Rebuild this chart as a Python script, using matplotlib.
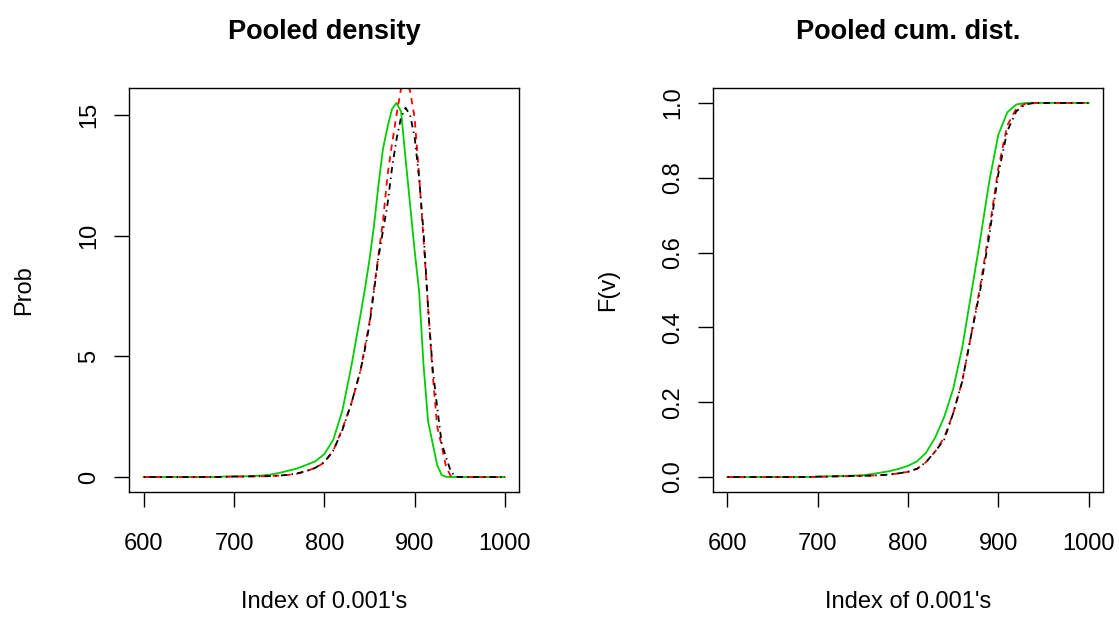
import matplotlib
matplotlib.use("Agg")
import matplotlib.pyplot as plt

plt.rcParams['font.family'] = ['Liberation Sans', 'DejaVu Sans']

# ---------------- data ----------------
dens_x = [600, 650, 680, 690, 700, 710, 720, 730, 740, 750, 760, 770, 780, 790,
          800, 810, 820, 830, 840, 845, 850, 855, 860, 865, 870, 875, 880, 885,
          890, 895, 900, 905, 910, 915, 920, 925, 930, 935, 940, 945, 950, 960, 1000]
dens_green = [0, 0, 0, 0.02, 0.03, 0.03, 0.04, 0.06, 0.1, 0.17, 0.26, 0.36, 0.5, 0.65,
              0.95, 1.55, 2.75, 4.6, 6.7, 7.8, 9.0, 10.4, 12.1, 13.6, 14.5, 15.25, 15.5, 15.15,
              13.2, 11.3, 9.4, 7.7, 4.6, 2.3, 1.4, 0.5, 0.08, 0.01, 0, 0, 0, 0, 0]
dens_red = [0, 0, 0, 0.01, 0.02, 0.02, 0.03, 0.03, 0.04, 0.06, 0.09, 0.14, 0.24, 0.38,
            0.6, 1.1, 2.0, 3.05, 4.4, 5.4, 6.4, 7.8, 9.2, 10.6, 12.5, 13.8, 15.0, 16.1,
            16.5, 16.0, 14.9, 12.5, 9.8, 7.0, 4.3, 2.1, 1.3, 0.4, 0.05, 0, 0, 0, 0]
dens_black = [0, 0, 0, 0.01, 0.02, 0.02, 0.03, 0.03, 0.04, 0.06, 0.09, 0.15, 0.25, 0.38,
              0.62, 1.1, 1.95, 3.05, 4.4, 5.3, 6.3, 7.7, 9.1, 10.2, 11.3, 12.8, 14.0, 14.9,
              15.3, 15.0, 14.1, 12.4, 10.1, 7.0, 4.5, 2.9, 1.4, 0.8, 0.25, 0.02, 0, 0, 0]

cdf_x = [600, 650, 690, 700, 710, 720, 730, 740, 750, 760, 770, 780, 790, 800, 810,
         820, 830, 840, 850, 860, 870, 880, 890, 900, 910, 920, 930, 940, 950, 1000]
cdf_green = [0, 0, 0, 0.001, 0.002, 0.002, 0.003, 0.004, 0.005, 0.008, 0.012, 0.016, 0.022,
             0.03, 0.042, 0.065, 0.105, 0.16, 0.235, 0.345, 0.49, 0.635, 0.79, 0.915, 0.975,
             0.996, 1.0, 1.0, 1.0, 1.0]
cdf_red = [0, 0, 0, 0.001, 0.001, 0.002, 0.002, 0.003, 0.003, 0.004, 0.005, 0.007, 0.01,
           0.014, 0.022, 0.04, 0.068, 0.105, 0.17, 0.255, 0.38, 0.51, 0.66, 0.825, 0.94,
           0.985, 0.998, 1.0, 1.0, 1.0]
cdf_black = [0, 0, 0, 0.001, 0.001, 0.002, 0.002, 0.003, 0.003, 0.004, 0.005, 0.007, 0.01,
             0.014, 0.022, 0.04, 0.068, 0.1, 0.17, 0.255, 0.38, 0.5, 0.645, 0.81, 0.925,
             0.978, 0.996, 1.0, 1.0, 1.0]

x_ticks = [600, 700, 800, 900, 1000]
dens_ticks = [0, 5, 10, 15]
cdf_ticks = [0.0, 0.2, 0.4, 0.6, 0.8, 1.0]
cdf_ticklabels = ["0.0", "0.2", "0.4", "0.6", "0.8", "1.0"]

# ---------------- figure ----------------
W, H = 1119, 620
fig = plt.figure(figsize=(W / 100, H / 100), dpi=100)

def frac_axes(x0, y0, x1, y1):
    return fig.add_axes([x0 / W, 1 - y1 / H, (x1 - x0) / W, (y1 - y0) / H])

ax1 = frac_axes(129.3, 88, 519.3, 492)
ax2 = frac_axes(713, 88, 1103, 492)

LW = 1.3
green_kw = dict(color='#00CD00', lw=LW, solid_joinstyle='round')
red_kw = dict(color='#FF0000', lw=LW, dashes=(3.5, 3.0))
black_kw = dict(color='black', lw=LW, dashes=(0.8, 2.4, 3.5, 2.4))

ax1.plot(dens_x, dens_green, **green_kw)
ax1.plot(dens_x, dens_red, **red_kw)
ax1.plot(dens_x, dens_black, **black_kw)

ax2.plot(cdf_x, cdf_green, **green_kw)
ax2.plot(cdf_x, cdf_red, **red_kw)
ax2.plot(cdf_x, cdf_black, **black_kw)

ymax1 = max(dens_green)
ax1.set_xlim(584, 1016)
ax1.set_ylim(-0.04 * ymax1, 1.04 * ymax1)
ax2.set_xlim(584, 1016)
ax2.set_ylim(-0.04, 1.04)

FS = 17
for ax in (ax1, ax2):
    ax.set_xticks(x_ticks)
    ax.set_xticklabels([str(v) for v in x_ticks], fontsize=FS)
    ax.tick_params(axis='both', direction='out', length=10.8, width=1.0)
    ax.tick_params(axis='x', pad=19)
    ax.tick_params(axis='y', pad=10)
    for s in ax.spines.values():
        s.set_linewidth(1.0)
    ax.set_xlabel("Index of 0.001's", fontsize=FS, labelpad=26)

ax1.set_yticks(dens_ticks)
ax1.set_yticklabels([str(v) for v in dens_ticks], fontsize=FS, rotation=90, va='center')
ax2.set_yticks(cdf_ticks)
ax2.set_yticklabels(cdf_ticklabels, fontsize=FS, rotation=90, va='center')

ax1.set_ylabel("Prob", fontsize=FS, labelpad=31)
ax2.set_ylabel("F(v)", fontsize=FS, labelpad=31)

ax1.set_title("Pooled density", fontsize=19.5, fontweight='bold', pad=35.5)
ax2.set_title("Pooled cum. dist.", fontsize=19.5, fontweight='bold', pad=35.5)

fig.savefig("out.png", dpi=100)
